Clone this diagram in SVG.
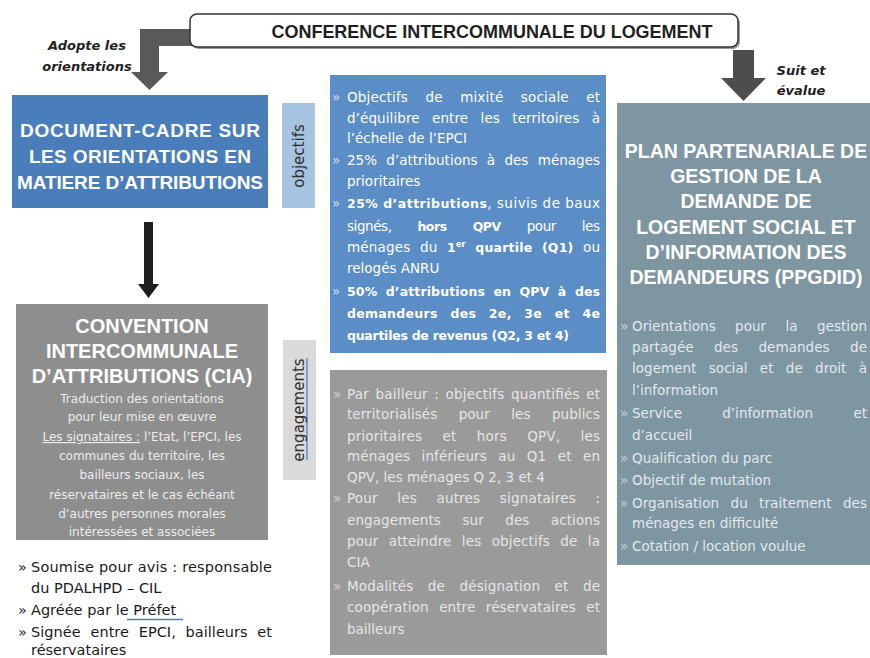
<svg xmlns="http://www.w3.org/2000/svg" width="870" height="658" viewBox="0 0 870 658">
<style>
.t{font-family:"Liberation Sans",Arial,sans-serif;font-weight:bold;fill:#fff;text-anchor:middle;font-size:20px}
.tr{font-size:19.5px}
.td{font-size:19px}
.b{font-family:"DejaVu Sans",sans-serif;font-size:13.5px}
.w{fill:#fff}
.g{fill:#e6e6e6}
.r{fill:#e3e9ec}
.bd{font-weight:bold;font-size:12.5px}
.bul{fill-opacity:.7}
.it{font-family:"DejaVu Sans",sans-serif;font-weight:bold;font-style:italic;font-size:13px;fill:#222;text-anchor:middle}
.lst{font-family:"DejaVu Sans",sans-serif;font-size:14.5px;fill:#1a1a1a}
.lbl{font-family:"DejaVu Sans",sans-serif;font-size:15px;fill:#2e2e2e;text-anchor:middle}
.cia{font-family:"DejaVu Sans",sans-serif;font-size:12px;fill:#ececec;text-anchor:middle}
</style>
<rect width="870" height="658" fill="#fff"/>
<g id="connectors">
<path d="M192,29 H140 V72 H131 L149.5,90 L168,72 H159 V46 H192 Z" fill="#595959"/>
<path d="M733,50 H754 V78 H766 L743.5,101 L721,78 H733 Z" fill="#4d4d4d"/>
<path d="M144,222 H153 V284 H159 L148.5,298 L138,284 H144 Z" fill="#1e1e1e"/>
</g>
<g id="conference">
<rect x="192" y="16" width="548" height="33" rx="7" fill="#9a9a9a"/>
<rect x="190" y="14" width="548" height="33" rx="7" fill="#fff" stroke="#333" stroke-width="1.5"/>
<text x="492" y="38" style="font-family:'Liberation Sans',Arial,sans-serif;font-weight:bold;font-size:18px;fill:#1f1f1f;text-anchor:middle" textLength="441" lengthAdjust="spacing">CONFERENCE INTERCOMMUNALE DU LOGEMENT</text>
</g>
<g id="label-adopte">
<text class="it" x="87" y="50">Adopte les</text>
<text class="it" x="87" y="71">orientations</text>
</g>
<g id="label-suit">
<text class="it" x="801" y="75">Suit et</text>
<text class="it" x="801" y="95">évalue</text>
</g>
<g id="document-cadre">
<rect x="12" y="95" width="256" height="113" fill="#4a7ebb"/>
<text class="t td" x="140" y="137" textLength="240" lengthAdjust="spacing">DOCUMENT-CADRE SUR</text>
<text class="t td" x="140" y="163" textLength="222" lengthAdjust="spacing">LES ORIENTATIONS EN</text>
<text class="t td" x="140" y="189" textLength="246" lengthAdjust="spacing">MATIERE D’ATTRIBUTIONS</text>
</g>
<g id="label-objectifs">
<rect x="282" y="103" width="33" height="105" fill="#a7c3e2"/>
<text class="lbl" transform="translate(304,156) rotate(-90)">objectifs</text>
</g>
<g id="objectifs">
<rect x="330" y="75" width="276" height="278" fill="#5b8dc6"/>
<g class="b w">
<text class="bul" x="332" y="102">»</text>
<text x="347" y="102" textLength="253" lengthAdjust="spacing" word-spacing="13">Objectifs de mixité sociale et</text>
<text x="347" y="123" textLength="253" lengthAdjust="spacing" word-spacing="8">d’équilibre entre les territoires à</text>
<text x="347" y="143">l’échelle de l’EPCI</text>
<text class="bul" x="332" y="165">»</text>
<text x="347" y="165" textLength="253" lengthAdjust="spacing" word-spacing="5">25% d’attributions à des ménages</text>
<text x="347" y="186">prioritaires</text>
<text class="bul" x="332" y="208">»</text>
<text x="347" y="208" textLength="253" lengthAdjust="spacing"><tspan class="bd">25% d’attributions</tspan>, suivis de baux</text>
<text x="347" y="231" textLength="253" lengthAdjust="spacing" word-spacing="22">signés, <tspan class="bd">hors QPV</tspan> pour les</text>
<text x="347" y="252" textLength="253" lengthAdjust="spacing" word-spacing="5">ménages du <tspan class="bd">1<tspan font-size="8" dy="-5">er</tspan><tspan dy="5"> quartile (Q1)</tspan></tspan> ou</text>
<text x="347" y="273">relogés ANRU</text>
<text class="bul" x="332" y="296">»</text>
<text class="bd" x="347" y="296" textLength="253" lengthAdjust="spacing" word-spacing="4">50% d’attributions en QPV à des</text>
<text class="bd" x="347" y="318" textLength="253" lengthAdjust="spacing" word-spacing="8">demandeurs des 2e, 3e et 4e</text>
<text class="bd" x="347" y="340" textLength="222" lengthAdjust="spacing">quartiles de revenus (Q2, 3 et 4)</text>
</g>
</g>
<g id="cia">
<rect x="16" y="304" width="252" height="236" fill="#8e8e8e"/>
<text class="t" x="142" y="333">CONVENTION</text>
<text class="t" x="142" y="358">INTERCOMMUNALE</text>
<text class="t" x="142" y="383">D’ATTRIBUTIONS (CIA)</text>
<text class="cia" x="142" y="403">Traduction des orientations</text>
<text class="cia" x="142" y="421">pour leur mise en œuvre</text>
<text class="cia" x="142" y="441"><tspan style="text-decoration:underline">Les signataires :</tspan> l’Etat, l’EPCI, les</text>
<text class="cia" x="142" y="460">communes du territoire, les</text>
<text class="cia" x="142" y="479">bailleurs sociaux, les</text>
<text class="cia" x="142" y="499">réservataires et le cas échéant</text>
<text class="cia" x="142" y="518">d’autres personnes morales</text>
<text class="cia" x="142" y="536">intéressées et associées</text>
</g>
<g id="cia-list">
<text class="lst" x="18" y="572">»</text>
<text class="lst" x="31" y="572" textLength="241" lengthAdjust="spacing">Soumise pour avis : responsable</text>
<text class="lst" x="31" y="593">du PDALHPD – CIL</text>
<text class="lst" x="18" y="615">»</text>
<text class="lst" x="31" y="615">Agréée par le Préfet</text>
<line x1="127" y1="619.5" x2="183" y2="619.5" stroke="#4a7ebb" stroke-width="1.6"/>
<text class="lst" x="18" y="637">»</text>
<text class="lst" x="31" y="637" textLength="241" lengthAdjust="spacing" word-spacing="5">Signée entre EPCI, bailleurs et</text>
<text class="lst" x="31" y="655">réservataires</text>
</g>
<g id="label-engagements">
<rect x="283" y="340" width="33" height="140" fill="#dadada"/>
<line x1="307" y1="358" x2="307" y2="460" stroke="#5b8dd0" stroke-width="1.5"/>
<text class="lbl" transform="translate(304,410) rotate(-90)">engagements</text>
</g>
<g id="engagements">
<rect x="330" y="370" width="277" height="285" fill="#9a9a9a"/>
<g class="b g">
<text class="bul" x="333" y="399">»</text>
<text x="347" y="399" textLength="253" lengthAdjust="spacing" word-spacing="2">Par bailleur : objectifs quantifiés et</text>
<text x="347" y="419" textLength="253" lengthAdjust="spacing" word-spacing="17">territorialisés pour les publics</text>
<text x="347" y="441" textLength="253" lengthAdjust="spacing" word-spacing="16">prioritaires et hors QPV, les</text>
<text x="347" y="461" textLength="253" lengthAdjust="spacing" word-spacing="7">ménages inférieurs au Q1 et en</text>
<text x="347" y="482">QPV, les ménages Q 2, 3 et 4</text>
<text class="bul" x="333" y="503">»</text>
<text x="347" y="503" textLength="253" lengthAdjust="spacing" word-spacing="15">Pour les autres signataires :</text>
<text x="347" y="525" textLength="253" lengthAdjust="spacing" word-spacing="17">engagements sur des actions</text>
<text x="347" y="546" textLength="253" lengthAdjust="spacing" word-spacing="6">pour atteindre les objectifs de la</text>
<text x="347" y="567">CIA</text>
<text class="bul" x="333" y="591">»</text>
<text x="347" y="591" textLength="253" lengthAdjust="spacing" word-spacing="10">Modalités de désignation et de</text>
<text x="347" y="612" textLength="253" lengthAdjust="spacing" word-spacing="6">coopération entre réservataires et</text>
<text x="347" y="634">bailleurs</text>
</g>
</g>
<g id="ppgdid">
<rect x="617" y="103" width="260" height="462" fill="#7e95a2"/>
<text class="t tr" x="746" y="158">PLAN PARTENARIALE DE</text>
<text class="t tr" x="746" y="183">GESTION DE LA</text>
<text class="t tr" x="746" y="208">DEMANDE DE</text>
<text class="t tr" x="746" y="234">LOGEMENT SOCIAL ET</text>
<text class="t tr" x="746" y="259">D’INFORMATION DES</text>
<text class="t tr" x="746" y="284">DEMANDEURS (PPGDID)</text>
<g class="b r">
<text class="bul" x="620" y="331">»</text>
<text x="632" y="331" textLength="235" lengthAdjust="spacing" word-spacing="15">Orientations pour la gestion</text>
<text x="632" y="352" textLength="235" lengthAdjust="spacing" word-spacing="16">partagée des demandes de</text>
<text x="632" y="373" textLength="235" lengthAdjust="spacing" word-spacing="8">logement social et de droit à</text>
<text x="632" y="395">l’information</text>
<text class="bul" x="620" y="418">»</text>
<text x="632" y="418" textLength="235" lengthAdjust="spacing" word-spacing="36">Service d’information et</text>
<text x="632" y="440">d’accueil</text>
<text class="bul" x="620" y="463">»</text>
<text x="632" y="463">Qualification du parc</text>
<text class="bul" x="620" y="485">»</text>
<text x="632" y="485">Objectif de mutation</text>
<text class="bul" x="620" y="508">»</text>
<text x="632" y="508" textLength="235" lengthAdjust="spacing" word-spacing="7">Organisation du traitement des</text>
<text x="632" y="528">ménages en difficulté</text>
<text class="bul" x="620" y="551">»</text>
<text x="632" y="551">Cotation / location voulue</text>
</g>
</g>
</svg>
